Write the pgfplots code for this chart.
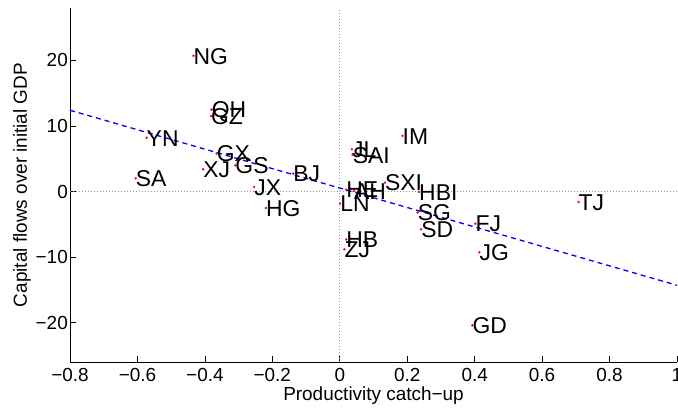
\documentclass[border=0pt]{standalone}
\usepackage{fontspec}
\setmainfont{Liberation Sans}
\usepackage{pgfplots}
\usepackage{pgfplotstable}
\pgfplotsset{compat=1.18}

% productivity catch-up vs. capital flows, one row per province
\pgfplotstableread{
label x y
NG  -0.434  20.7
QH  -0.380  12.5
GZ  -0.382  11.5
YN  -0.573   8.2
GX  -0.365   5.8
XJ  -0.405   3.4
GS  -0.310   4.0
SA  -0.605   2.0
BJ  -0.138   2.75
JX  -0.254   0.7
HG  -0.219  -2.5
IM   0.186   8.5
JL   0.036   6.45
SAI  0.038   5.6
HE   0.019   0.3
AH   0.042   0.1
SXI  0.134   1.37
HBI  0.235  -0.06
LN   0.001  -1.83
SG   0.231  -3.2
SD   0.241  -5.76
FJ   0.402  -4.9
JG   0.414  -9.27
HB   0.019  -7.3
ZJ   0.0136 -8.8
TJ   0.708  -1.59
GD   0.393 -20.4
}\provinces

\begin{document}
\begin{tikzpicture}
\useasboundingbox (0,0) rectangle (678bp,410bp);
\begin{axis}[
  at={(70bp,48bp)}, anchor=south west,
  scale only axis, width=607bp, height=354bp,
  xmin=-0.8, xmax=1, ymin=-26, ymax=28,
  axis x line*=bottom, axis y line*=left,
  axis line style={black, line width=0.6bp},
  tick align=inside, major tick length=6bp,
  tick style={black, line width=0.6bp},
  xtick={-0.8,-0.6,-0.4,-0.2,0,0.2,0.4,0.6,0.8,1},
  xticklabels={−0.8,−0.6,−0.4,−0.2,0,0.2,0.4,0.6,0.8,1},
  ytick={-20,-10,0,10,20},
  yticklabels={−20,−10,0,10,20},
  ticklabel style={font=\fontsize{19}{22}\selectfont},
  xticklabel style={anchor=north, inner sep=0pt, yshift=-6bp},
  yticklabel style={anchor=east, inner sep=0pt, xshift=-2bp},
  xlabel={Productivity catch−up},
  ylabel={Capital flows over initial GDP},
  label style={font=\fontsize{19}{22}\selectfont},
  xlabel style={at={(axis description cs:0.5,0)}, anchor=north, inner sep=0pt, yshift=-25bp},
  ylabel style={at={(axis description cs:0,0.5)}, anchor=north, inner sep=0pt, yshift=57bp},
  clip=false,
]
% zero reference lines
\addplot[gray!80, line width=0.7bp, dash pattern=on 1bp off 2bp] coordinates {(0,-26) (0,28)};
\addplot[gray!80, line width=0.7bp, dash pattern=on 1bp off 2bp] coordinates {(-0.8,0) (1,0)};
% provinces with their labels
\addplot[red, only marks, mark=*, mark size=1bp, mark options={draw=none, fill=red},
  point meta=explicit symbolic,
  nodes near coords,
  nodes near coords align={center},
  every node near coord/.append style={anchor=west, inner sep=0pt, text=black,
    font=\fontsize{23}{27}\selectfont, text height=16.5bp, text depth=0bp},
] table[x=x, y=y, meta=label] {\provinces};
% fitted line
\addplot[blue, line width=1.3bp, dash pattern=on 5bp off 4bp] coordinates {(-0.8,12.4) (1,-14.3)};
\end{axis}
\end{tikzpicture}
\end{document}
